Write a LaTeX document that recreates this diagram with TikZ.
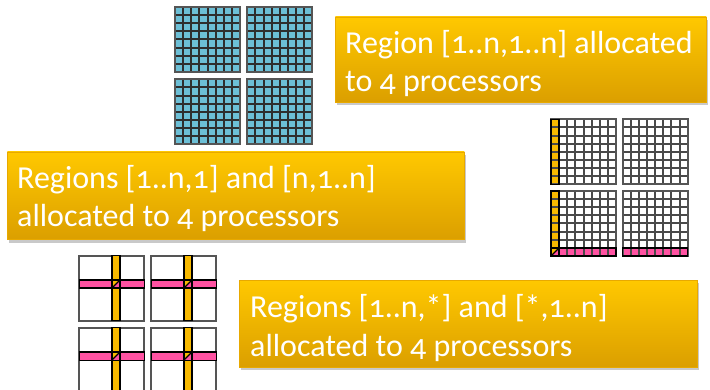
\documentclass[tikz,border=0pt]{standalone}
\usepackage{fontspec}
\setmainfont{Carlito}[Numbers=OldStyle]
\usetikzlibrary{shadows}
\definecolor{cellblue}{HTML}{6CBFD6}
\definecolor{gridgray}{HTML}{2E2E2E}
\definecolor{bordergray}{HTML}{555555}
\definecolor{lightgridgray}{HTML}{4A4A4A}
\definecolor{stripyellow}{HTML}{F7B900}
\definecolor{strippink}{HTML}{FF52A2}
\definecolor{boxtop}{HTML}{FFC800}
\definecolor{boxbot}{HTML}{DB9F00}
\definecolor{boxedge}{HTML}{E8A900}
\tikzset{
  banner/.style={draw=boxedge, line width=0.6pt, top color=boxtop, bottom color=boxbot,
    drop shadow={shadow xshift=1.5pt, shadow yshift=-3pt, opacity=0.3, fill=black!70},
    inner sep=0pt, anchor=north west},
  bannertext/.style={anchor=base west, text=white, font=\fontsize{32}{38}\selectfont, inner sep=0pt},
  gridline/.style={draw=gridgray, line width=2pt},
  outline/.style={draw=bordergray, line width=2pt},
  stripline/.style={draw=black, line width=1.4pt},
}
% full 8x8 grid background: x, y, fill colour
\newcommand\fullgridat[3]{%
  \fill[#3] (#1,#2) rectangle ++(65,65);
}
% grid lines: x, y, line colour
\newcommand\gridlinesat[3]{%
  \foreach \k in {1,...,7}{
    \draw[gridline, draw=#3] ({#1+\k*8.125},#2) -- ++(0,65);
    \draw[gridline, draw=#3] (#1,{#2+\k*8.125}) -- ++(65,0);
  }
  \draw[outline] (#1,#2) rectangle ++(65,65);
}
% cross grid: x, y
\newcommand\crossgridat[2]{%
  \fill[white] (#1,#2) rectangle ++(65,65);
  \draw[outline] (#1,#2) rectangle ++(65,65);
  \fill[stripyellow] ({#1+4*8.125},#2) rectangle ++(8.125,65);
  \fill[strippink] (#1,{#2+3*8.125}) rectangle ++(65,8.125);
  \fill[stripyellow] ({#1+4*8.125},{#2+3*8.125}) rectangle ++(8.125,8.125);
  \fill[strippink] ({#1+5*8.125},{#2+3*8.125}) -- ++(0,8.125) -- ++(-8.125,0) -- cycle;
  \draw[stripline] ({#1+4*8.125},#2) rectangle ++(8.125,65);
  \draw[stripline] (#1,{#2+3*8.125}) rectangle ++(65,8.125);
  \draw[stripline] ({#1+4*8.125},{#2+4*8.125}) -- ++(8.125,-8.125);
}
\begin{document}
\begin{tikzpicture}[x=1pt,y=-1pt]
\useasboundingbox (0,0) rectangle (710,390);

% top blue grids
\foreach \gx/\gy in {175/7, 247.3/7, 175/79.3, 247.3/79.3}{
  \fullgridat{\gx}{\gy}{cellblue}
  \gridlinesat{\gx}{\gy}{gridgray}
}

% right grids
\fullgridat{551}{119.3}{white}
\fill[stripyellow] (551,119.3) rectangle ++(8.125,65);
\gridlinesat{551}{119.3}{lightgridgray}
\draw[stripline] (551,119.3) rectangle ++(8.125,65);

\fullgridat{622.7}{119.3}{white}
\gridlinesat{622.7}{119.3}{lightgridgray}

\fullgridat{551}{191}{white}
\fill[stripyellow] (551,191) rectangle ++(8.125,65);
\fill[strippink] (551,{191+7*8.125}) rectangle ++(65,8.125);
\fill[stripyellow] (551,{191+7*8.125}) rectangle ++(8.125,8.125);
\fill[strippink] ({551+8.125},{191+7*8.125}) -- ++(0,8.125) -- ++(-8.125,0) -- cycle;
\gridlinesat{551}{191}{lightgridgray}
\draw[stripline] (551,191) rectangle ++(8.125,65);
\draw[stripline] (551,{191+7*8.125}) rectangle ++(65,8.125);
\draw[stripline] (551,{191+8*8.125}) -- ++(8.125,-8.125);

\fullgridat{622.7}{191}{white}
\fill[strippink] (622.7,{191+7*8.125}) rectangle ++(65,8.125);
\gridlinesat{622.7}{191}{lightgridgray}
\draw[stripline] (622.7,{191+7*8.125}) rectangle ++(65,8.125);

% bottom-left cross grids
\crossgridat{79.3}{255.7}
\crossgridat{151.3}{255.7}
\crossgridat{79.3}{327.7}
\crossgridat{151.3}{327.7}

% banners
\node[banner, minimum width=371pt, minimum height=85pt] (b1) at (335,16.7) {};
\node[bannertext] (t1a) at (345,53.3) {Region [1..n,1..n] allocated};
\node[bannertext] (t1b) at (345,91.7) {to 4 processors};

\node[banner, minimum width=457pt, minimum height=87.6pt] (b2) at (7,151.7) {};
\node[bannertext] (t2a) at (17,188.3) {Regions [1..n,1] and [n,1..n]};
\node[bannertext] (t2b) at (17,226.7) {allocated to 4 processors};

\node[banner, minimum width=457.7pt, minimum height=86.7pt] (b3) at (239,280) {};
\node[bannertext] (t3a) at (250,317.7) {Regions [1..n,*] and [*,1..n]};
\node[bannertext] (t3b) at (250,356) {allocated to 4 processors};
\end{tikzpicture}
\end{document}
